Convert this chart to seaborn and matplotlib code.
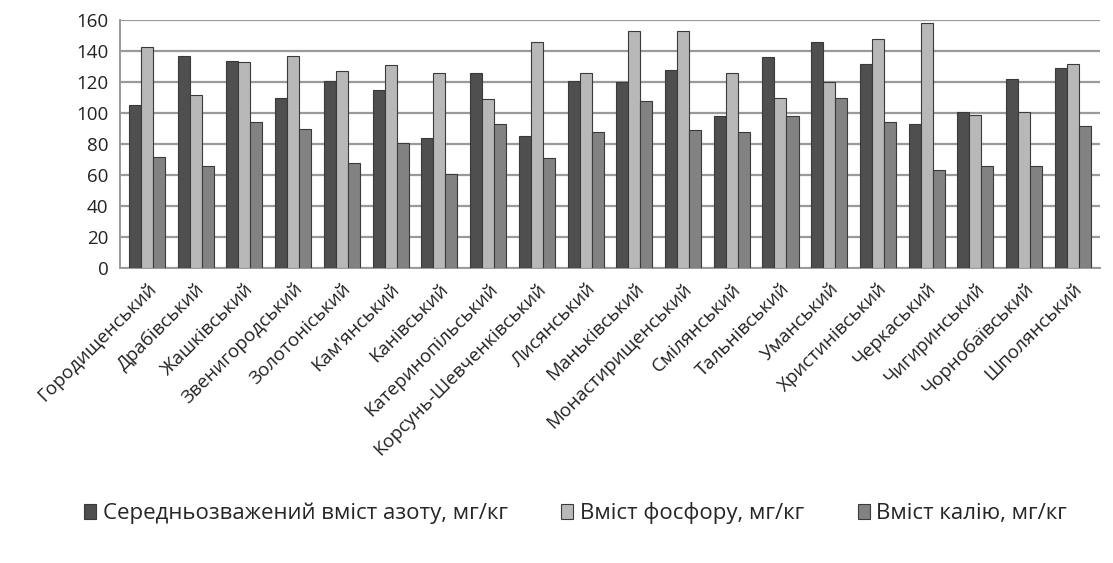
import pandas as pd
import matplotlib.pyplot as plt
import seaborn as sns

# ---------- Data ----------
districts = [
    "Городищенський", "Драбівський", "Жашківський", "Звенигородський",
    "Золотоніський", "Кам'янський", "Канівський", "Катеринопільський",
    "Корсунь-Шевченківський", "Лисянський", "Маньківський", "Монастирищенський",
    "Смілянський", "Тальнівський", "Уманський", "Христинівський",
    "Черкаський", "Чигиринський", "Чорнобаївський", "Шполянський",
]
nitrogen = [105, 137, 134, 110, 121, 115, 84, 126, 85, 121,
            120, 128, 98, 136, 146, 132, 93, 101, 122, 129]
phosphorus = [143, 112, 133, 137, 127, 131, 126, 109, 146, 126,
              153, 153, 126, 110, 120, 148, 158, 99, 101, 132]
potassium = [72, 66, 94, 90, 68, 81, 61, 93, 71, 88,
             108, 89, 88, 98, 110, 94, 63, 66, 66, 92]

series_names = [
    "Середньозважений вміст азоту, мг/кг",
    "Вміст фосфору, мг/кг",
    "Вміст калію, мг/кг",
]
colors = ["#4f4f4f", "#b8b8b8", "#828282"]

df = pd.DataFrame({
    "district": districts * 3,
    "series": [series_names[0]] * 20 + [series_names[1]] * 20 + [series_names[2]] * 20,
    "value": nitrogen + phosphorus + potassium,
})

# ---------- Plot ----------
sns.set_style("white")
plt.rcParams['font.family'] = ['Open Sans', 'DejaVu Sans']

fig = plt.figure(figsize=(11.13, 5.63), dpi=100)
ax = fig.add_axes([0.108, 0.524, 0.880, 0.440])

sns.barplot(data=df, x="district", y="value", hue="series",
            palette=colors, width=0.74, gap=0, edgecolor="#3a3a3a",
            linewidth=0.8, ax=ax, zorder=3)

ax.set_ylim(0, 160)
ax.set_yticks(range(0, 161, 20))
ax.set_xlim(-0.55, len(districts) - 0.45)
ax.yaxis.grid(True, color="#9a9a9a", linewidth=1.6, zorder=0)
ax.set_axisbelow(True)
for s in ["top", "right"]:
    ax.spines[s].set_visible(False)
for s in ["left", "bottom"]:
    ax.spines[s].set_color("#9a9a9a")
    ax.spines[s].set_linewidth(1.4)

ax.set_xlabel("")
ax.set_ylabel("")
ax.tick_params(axis="y", labelsize=13.5, colors="#222222", length=5, color="#9a9a9a")
ax.tick_params(axis="x", labelsize=13.5, colors="#222222", length=5, color="#9a9a9a")
ax.set_xticks(range(len(districts)))
ax.set_xticklabels(districts, rotation=45, ha="right", rotation_mode="anchor")

ax.legend(loc="center", bbox_to_anchor=(0.465, -0.99), ncol=3,
          frameon=False, fontsize=16, handlelength=0.55, handleheight=0.65,
          handletextpad=0.3, columnspacing=2.4)

fig.savefig("out.png", dpi=100)
